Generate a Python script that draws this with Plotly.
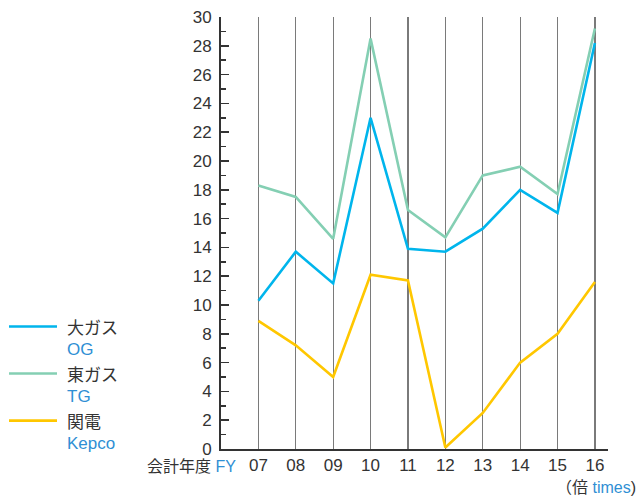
import plotly.graph_objects as go

fiscal_years = ["07", "08", "09", "10", "11", "12", "13", "14", "15", "16"]
og_values = [10.3, 13.7, 11.5, 23.0, 13.9, 13.7, 15.3, 18.0, 16.4, 28.2]
tg_values = [18.3, 17.5, 14.6, 28.5, 16.6, 14.7, 19.0, 19.6, 17.7, 29.2]
kepco_values = [8.9, 7.2, 5.0, 12.1, 11.7, 0.1, 2.5, 6.0, 8.0, 11.6]
y_ticks = list(range(0, 31, 2))

series_names = [("大ガス", "OG"), ("東ガス", "TG"), ("関電", "Kepco")]
series_values = [og_values, tg_values, kepco_values]
colors = ["#00b5ec", "#84cfb3", "#ffc700"]

DARK = "#333333"
BLUE = "#2f8fd4"
FONT = "Liberation Sans, Noto Sans CJK JP, sans-serif"

# pixel layout helpers
W, H = 640, 497
L, R, T, B = 221, 608, 8, 449


def px(x):
    return (x - L) / (R - L)


def py(y):
    return (B - y) / (B - T)


x_idx = list(range(len(fiscal_years)))

fig = go.Figure()
for (jp, en), vals, c in zip(series_names, series_values, colors):
    fig.add_trace(go.Scatter(
        x=x_idx, y=vals, mode="lines", name=jp,
        line=dict(color=c, width=2.6), cliponaxis=False, showlegend=False,
        hoverinfo="skip",
    ))

fig.update_layout(
    width=W, height=H,
    margin=dict(l=L, r=W - R, t=T, b=H - B, pad=0),
    paper_bgcolor="white", plot_bgcolor="white",
    font=dict(family=FONT, color=DARK, size=17),
    showlegend=False,
)

fig.update_xaxes(
    range=[-1, 9.35], tickvals=x_idx, ticktext=fiscal_years,
    showgrid=True, gridcolor="#7a7a7a", gridwidth=1.2,
    zeroline=False, showline=True, linecolor=DARK, linewidth=2,
    ticks="", tickfont=dict(size=17, color=DARK), fixedrange=True,
    ticklabeloverflow="allow",
)
fig.update_yaxes(
    range=[0, 30], tickvals=y_ticks, ticktext=[str(v) for v in y_ticks],
    showgrid=False, zeroline=False, showline=True, linecolor=DARK, linewidth=2,
    ticks="inside", ticklen=8, tickwidth=1.5, tickcolor=DARK,
    minor=dict(dtick=1, ticks="inside", ticklen=5, tickwidth=1.5, tickcolor=DARK, showgrid=False),
    tickfont=dict(size=17, color=DARK), ticklabelstandoff=4, fixedrange=True,
    ticklabeloverflow="allow",
)

# manual legend
legend_line_y = [324, 372, 420]
for (jp, en), c, ly in zip(series_names, colors, legend_line_y):
    fig.add_shape(type="line", xref="paper", yref="paper",
                  x0=px(9), x1=px(57), y0=py(ly), y1=py(ly),
                  line=dict(color=c, width=2.6))
    fig.add_annotation(xref="paper", yref="paper", x=px(65), y=py(ly + 2),
                       xanchor="left", yanchor="middle", showarrow=False,
                       text=jp, font=dict(size=17, color=DARK))
    fig.add_annotation(xref="paper", yref="paper", x=px(65), y=py(ly + 23),
                       xanchor="left", yanchor="middle", showarrow=False,
                       text=en, font=dict(size=17, color=BLUE))

fig.add_annotation(xref="paper", yref="paper", x=px(238), y=py(467),
                   xanchor="right", yanchor="middle", showarrow=False,
                   text=f"会計年度 <span style='color:{BLUE}'>FY</span>",
                   font=dict(size=16, color=DARK))
fig.add_annotation(xref="paper", yref="paper", x=px(638), y=py(488),
                   xanchor="right", yanchor="middle", showarrow=False,
                   text=f"（倍 <span style='color:{BLUE}'>times</span>)",
                   font=dict(size=16, color=DARK))

fig.write_html("out.html",
               config={"displayModeBar": False, "staticPlot": True},
               post_script="document.body.style.margin='0';document.body.style.overflow='hidden';")
